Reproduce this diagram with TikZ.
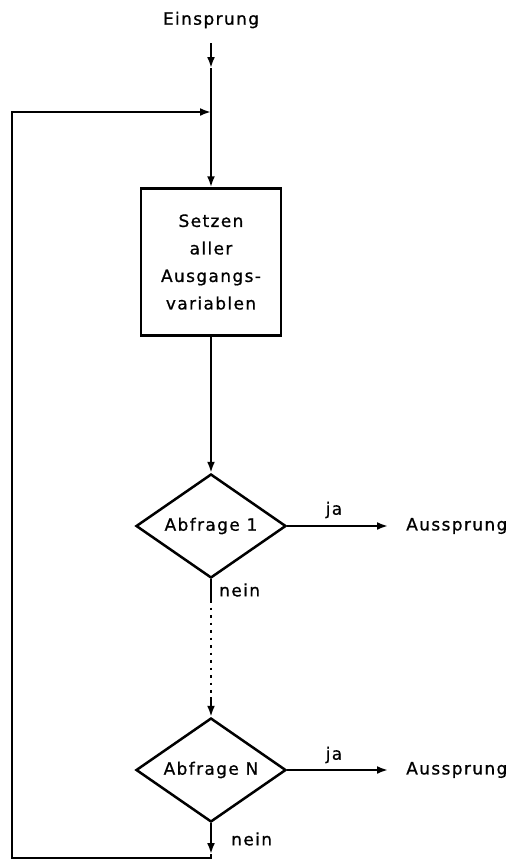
\documentclass[tikz,border=0pt]{standalone}
\usepackage{fontspec}
\setmainfont[LetterSpace=8,FakeBold=0.8]{DejaVu Sans}
\usetikzlibrary{shapes.geometric,arrows.meta}
\begin{document}
\begin{tikzpicture}[x=1pt,y=-1pt,
  line width=2.5pt,
  every node/.style={font=\fontsize{17}{20}\selectfont},
  arr/.style={-{Latex[length=11pt,width=8pt]}},
  boxnode/.style={draw,rectangle,minimum width=140pt,minimum height=147pt,align=center,inner sep=0pt,
     execute at begin node={\setlength{\baselineskip}{27.5pt}}},
  dia/.style={draw,diamond,shape aspect=3,inner sep=0pt,minimum width=150pt,minimum height=104pt},
  lbl/.style={inner sep=0pt}
]
\useasboundingbox (0,0) rectangle (515,863);

\node[lbl] (ein) at (211,20) {Einsprung};
\coordinate (top) at (211,43);
\coordinate (a1) at (211,68);
\coordinate (j) at (211,112);

\node[boxnode] (box) at (211,262) {Setzen\\aller\\Ausgangs-\\variablen};

\node[dia] (d1) at (211,526) {Abfrage 1};
\node[dia] (d2) at (211,770) {Abfrage N};

\coordinate (e1) at (388,526);
\coordinate (e2) at (388,770);
\node[lbl,anchor=west] (out1) at (405,526) {Aussprung};
\node[lbl,anchor=west] (out2) at (405,770) {Aussprung};
\node[lbl] (ja1) at (334,510) {ja};
\node[lbl] (ja2) at (334,755) {ja};
\node[lbl,anchor=west] (nein1) at (218,590) {nein};
\node[lbl,anchor=west] (nein2) at (230,839) {nein};

\coordinate (s1) at (211,600);
\coordinate (s2) at (211,697);
\coordinate (b1) at (211,854);
\coordinate (b2) at (211,858);
\coordinate (bl) at (12,858);
\coordinate (tl) at (12,112);

% entry
\draw[arr] (top) -- (a1);
\draw (a1) -- (j);
\draw[arr] (j) -- (box.north);
% box to decision 1
\draw[arr] (box.south) -- (d1.north);
\draw[arr] (d1.east) -- (e1);
% between decisions
\draw (d1.south) -- (s1);
\draw[dash pattern=on 2.5pt off 5pt] (s1) -- (s2);
\draw[arr] (s2) -- (d2.north);
\draw[arr] (d2.east) -- (e2);
% loop back
\draw[arr] (d2.south) -- (b1);
\draw[arr] (b1) -- (b2) -- (bl) -- (tl) -- (j);
\end{tikzpicture}
\end{document}
